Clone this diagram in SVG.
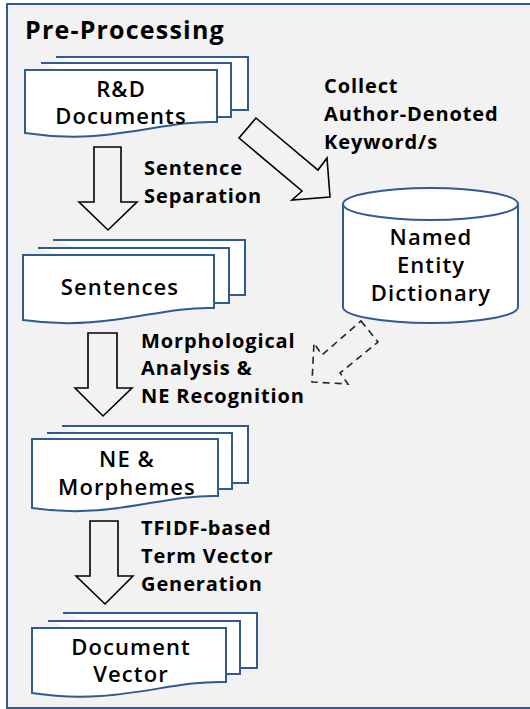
<svg xmlns="http://www.w3.org/2000/svg" width="530" height="709" viewBox="0 0 530 709">
<style>
.frame{fill:#f2f2f2;stroke:#2f5b8f;stroke-width:2}
.doc{fill:#fff;stroke:#2f5b8f;stroke-width:2;stroke-linejoin:miter}
.cyl{fill:#fff;stroke:#2f5b8f;stroke-width:2}
.blk{fill:none;stroke:#000;stroke-width:1.6;stroke-linejoin:miter}
.dash{fill:none;stroke:#222;stroke-width:1.6;stroke-dasharray:7 5}
.t{font-family:"Open Sans","Noto Sans",sans-serif;font-weight:600;font-size:22px;letter-spacing:1.1px;fill:#000;text-anchor:middle}
.lbl{font-family:"Open Sans","Noto Sans",sans-serif;font-weight:700;font-size:20px;letter-spacing:0.9px;fill:#000}
.title{font-family:"Open Sans","Noto Sans",sans-serif;font-weight:700;font-size:25px;letter-spacing:1.2px;fill:#000}
</style>
<rect class="frame" x="7" y="4" width="540" height="704"/>
<text class="title" x="25" y="39">Pre-Processing</text>

<g id="rd-documents">
<path class="doc" d="M56,57 H248 V110 H231"/>
<path class="doc" d="M41,63 H231 V117 H217"/>
<path class="doc" d="M25,70 H217 V122 C160,120 110,146 25,133 Z"/>
<text class="t" x="121" y="97">R&amp;D</text>
<text class="t" x="121" y="124">Documents</text>
</g>

<g id="sentences">
<path class="doc" d="M53,240 H245 V295 H229"/>
<path class="doc" d="M38,248 H229 V303 H214"/>
<path class="doc" d="M23,255 H214 V308 C157,306 107,332 23,320 Z"/>
<text class="t" x="120" y="295">Sentences</text>
</g>

<g id="ne-morphemes">
<path class="doc" d="M62,426 H248 V483 H232"/>
<path class="doc" d="M47,433 H232 V489 H218"/>
<path class="doc" d="M32,439 H218 V496 C162,494 113,520 32,508 Z"/>
<text class="t" x="127" y="467">NE &amp;</text>
<text class="t" x="127" y="495">Morphemes</text>
</g>

<g id="document-vector">
<path class="doc" d="M63,613 H257 V668 H240"/>
<path class="doc" d="M48,621 H240 V674 H226"/>
<path class="doc" d="M32,628 H226 V682 C168,680 117,706 32,693 Z"/>
<text class="t" x="131" y="655">Document</text>
<text class="t" x="131" y="682">Vector</text>
</g>

<g id="named-entity-dictionary">
<path class="cyl" d="M343,204 V307 A87.5,16 0 0 0 518,307 V204"/>
<ellipse class="cyl" cx="430.5" cy="204" rx="87.5" ry="16"/>
<text class="t" x="431" y="245">Named</text>
<text class="t" x="431" y="273">Entity</text>
<text class="t" x="431" y="301">Dictionary</text>
</g>

<g id="connectors">
<polygon class="blk" points="94,147 121,147 121,202 137,202 108,230 79,202 94,202"/>
<polygon class="blk" points="88,333 117,333 117,388 132,388 103,416 75,388 88,388"/>
<polygon class="blk" points="90,521 118,521 118,576 133,576 105,604 76,576 90,576"/>
<polygon class="blk" points="256,118 318,170 327,158 330,197 292,200 302,191 239,138"/>
<polygon class="dash" points="361,321 378,342 340,373 348,384 312,382 314,343 322,355"/>
</g>

<g id="labels">
<text class="lbl" x="144" y="175">Sentence</text>
<text class="lbl" x="144" y="203">Separation</text>
<text class="lbl" x="324" y="93">Collect</text>
<text class="lbl" x="324" y="121">Author-Denoted</text>
<text class="lbl" x="324" y="149">Keyword/s</text>
<text class="lbl" x="141" y="348">Morphological</text>
<text class="lbl" x="141" y="375">Analysis &amp;</text>
<text class="lbl" x="141" y="403">NE Recognition</text>
<text class="lbl" x="141" y="535">TFIDF-based</text>
<text class="lbl" x="141" y="563">Term Vector</text>
<text class="lbl" x="141" y="591">Generation</text>
</g>
</svg>
